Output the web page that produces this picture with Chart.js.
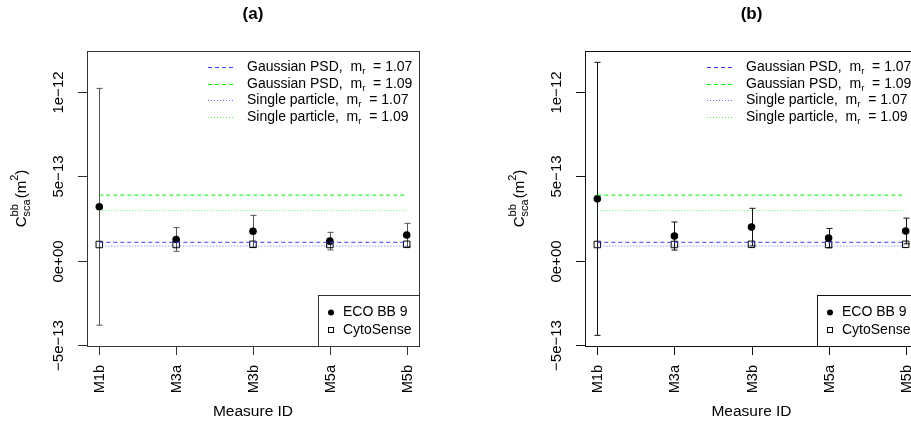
<!DOCTYPE html>
<html>
<head>
<meta charset="utf-8">
<script src="https://cdn.jsdelivr.net/npm/chart.js@4.4.0/dist/chart.umd.min.js"></script>
<style>
  body { margin: 0; background: #fff; overflow: hidden; width: 911px; height: 425px; position: relative; }
  #wrapA { position: absolute; left: 0; top: 0; width: 460px; height: 425px; overflow: hidden; }
  #wrapB { position: absolute; left: 460px; top: 0; width: 451px; height: 425px; overflow: hidden; }
  canvas { position: absolute; left: 0; top: 0; }
</style>
</head>
<body>
<div id="wrapA"><canvas id="chartA" width="460" height="425"></canvas></div>
<div id="wrapB"><canvas id="chartB" width="500" height="425"></canvas></div>
<script>
// categories and ticks
var measureIds = ["M1b", "M3a", "M3b", "M5a", "M5b"];
var yTicks = [-5e-13, 0, 5e-13, 1e-12];
var yTickLabels = ["\u22125e\u221213", "0e+00", "5e\u221213", "1e\u221212"];

// panel (a)
var ecoA = [3.19e-13, 1.26e-13, 1.74e-13, 1.16e-13, 1.52e-13];
var ecoErrA = [7.0e-13, 0.70e-13, 0.94e-13, 0.52e-13, 0.69e-13];
var cytoA = [0.96e-13, 0.96e-13, 0.97e-13, 0.96e-13, 0.97e-13];

// panel (b)
var ecoB = [3.66e-13, 1.46e-13, 1.99e-13, 1.34e-13, 1.76e-13];
var ecoErrB = [8.07e-13, 0.83e-13, 1.11e-13, 0.57e-13, 0.76e-13];
var cytoB = [0.96e-13, 0.96e-13, 0.97e-13, 0.96e-13, 0.97e-13];

// reference lines (same in both panels)
var refNames = ["Gaussian PSD,", "Gaussian PSD,", "Single particle,", "Single particle,"];
var refMr = ["1.07", "1.09", "1.07", "1.09"];
var refValues = [1.09e-13, 3.88e-13, 0.87e-13, 2.96e-13];
var refColors = ["#3c3cff", "#00ee00", "rgba(60,60,255,0.75)", "rgba(40,230,40,0.75)"];
var refDash = [[4, 3], [4, 3], [1, 2], [1, 2]];

var FONT = "Liberation Sans, Arial, sans-serif";

// R風の軸・凡例・エラーバーを描くプラグイン
var rStyle = {
  id: "rStyle",
  beforeDatasetsDraw: function (chart) {
    var o = chart.options.plugins.rStyle;
    var xs = chart.scales.x, ys = chart.scales.y, ctx = chart.ctx;
    ctx.save();
    ctx.strokeStyle = o.barColor;
    ctx.lineWidth = 1;
    for (var i = 0; i < o.eco.length; i++) {
      var x = Math.round(xs.getPixelForValue(i + 1)) + 0.5;
      var hi = ys.getPixelForValue(o.eco[i] + o.err[i]);
      var lo = ys.getPixelForValue(o.eco[i] - o.err[i]);
      ctx.beginPath();
      ctx.moveTo(x, hi); ctx.lineTo(x, lo);
      ctx.moveTo(x - 3, hi); ctx.lineTo(x + 3, hi);
      ctx.moveTo(x - 3, lo); ctx.lineTo(x + 3, lo);
      ctx.stroke();
    }
    ctx.restore();
  },
  afterDraw: function (chart) {
    var o = chart.options.plugins.rStyle;
    var xs = chart.scales.x, ys = chart.scales.y, ctx = chart.ctx;
    var a = chart.chartArea;
    ctx.save();
    ctx.strokeStyle = o.axisColor;
    ctx.fillStyle = "#000";
    ctx.lineWidth = 1;
    // box
    ctx.strokeRect(Math.round(a.left) + 0.5, Math.round(a.top) + 0.5, Math.round(a.right - a.left), Math.round(a.bottom - a.top));

    // x ticks
    ctx.font = "14.5px " + FONT;
    for (var i = 0; i < measureIds.length; i++) {
      var x = Math.round(xs.getPixelForValue(i + 1)) + 0.5;
      ctx.beginPath();
      ctx.moveTo(x, a.bottom); ctx.lineTo(x, a.bottom + 9);
      ctx.stroke();
      ctx.save();
      ctx.translate(x, a.bottom + 19);
      ctx.rotate(-Math.PI / 2);
      ctx.textAlign = "right";
      ctx.textBaseline = "middle";
      ctx.fillText(measureIds[i], 0, 0);
      ctx.restore();
    }
    // y ticks
    ctx.font = "15px " + FONT;
    for (var j = 0; j < yTicks.length; j++) {
      var y = Math.round(ys.getPixelForValue(yTicks[j])) + 0.5;
      ctx.beginPath();
      ctx.moveTo(a.left, y); ctx.lineTo(a.left - 9, y);
      ctx.stroke();
      ctx.save();
      ctx.translate(a.left - 28, y);
      ctx.rotate(-Math.PI / 2);
      ctx.textAlign = "center";
      ctx.textBaseline = "middle";
      ctx.fillText(yTickLabels[j], 0, 0);
      ctx.restore();
    }
    // axis titles
    ctx.textAlign = "center";
    ctx.textBaseline = "middle";
    ctx.font = "15.5px " + FONT;
    ctx.fillText("Measure ID", (a.left + a.right) / 2, 412);
    ctx.font = "bold 17px " + FONT;
    ctx.fillText(o.title, (a.left + a.right) / 2, 14);

    // y title: C^bb_sca (m^2)
    ctx.save();
    ctx.translate(a.left - 66, (a.top + a.bottom) / 2);
    ctx.rotate(-Math.PI / 2);
    ctx.textBaseline = "alphabetic";
    ctx.textAlign = "left";
    var big = "15px " + FONT, small = "11px " + FONT;
    ctx.font = big; var wC = ctx.measureText("C").width; var wP = ctx.measureText("(m").width; var wR = ctx.measureText(")").width;
    ctx.font = small; var wS = Math.max(ctx.measureText("bb").width, ctx.measureText("sca").width); var w2 = ctx.measureText("2").width;
    var tot = wC + wS + 1 + wP + w2 + wR;
    var px = -tot / 2, base = 5;
    ctx.font = big; ctx.fillText("C", px, base); px += wC;
    ctx.font = small; ctx.fillText("bb", px, base - 8); ctx.fillText("sca", px, base + 4); px += wS + 1;
    ctx.font = big; ctx.fillText("(m", px, base); px += wP;
    ctx.font = small; ctx.fillText("2", px, base - 8); px += w2;
    ctx.font = big; ctx.fillText(")", px, base);
    ctx.restore();

    // top legend (no box)
    var lx = a.right - 172;
    for (var k = 0; k < refNames.length; k++) {
      var ly = Math.round(a.top + 16 + k * 16.6);
      ctx.save();
      ctx.strokeStyle = refColors[k];
      ctx.setLineDash(refDash[k]);
      ctx.beginPath();
      ctx.moveTo(lx - 39, ly + 0.5); ctx.lineTo(lx - 12, ly + 0.5);
      ctx.stroke();
      ctx.restore();
      ctx.textAlign = "left";
      ctx.textBaseline = "middle";
      ctx.font = "14px " + FONT;
      var t = refNames[k] + "  m";
      ctx.fillText(t, lx, ly);
      var tx = lx + ctx.measureText(t).width;
      ctx.font = "9.5px " + FONT;
      ctx.fillText("r", tx, ly + 4);
      tx += ctx.measureText("r").width;
      ctx.font = "14px " + FONT;
      ctx.fillText("  = " + refMr[k], tx, ly);
    }

    // bottom-right legend (boxed)
    var bx = a.right - 101, by = a.bottom - 51;
    ctx.strokeStyle = o.axisColor;
    ctx.strokeRect(Math.round(bx) + 0.5, Math.round(by) + 0.5, Math.round(a.right - bx), Math.round(a.bottom - by));
    ctx.beginPath();
    ctx.arc(bx + 13, by + 17.5, 3, 0, Math.PI * 2);
    ctx.fill();
    ctx.strokeStyle = "#000";
    ctx.strokeRect(Math.round(bx + 10) + 0.5, Math.round(by + 32) + 0.5, 5, 5);
    ctx.font = "14px " + FONT;
    ctx.textAlign = "left";
    ctx.textBaseline = "middle";
    ctx.fillText("ECO BB 9", bx + 25, by + 17.5);
    ctx.fillText("CytoSense", bx + 25, by + 35);
    ctx.restore();
  }
};

function makeDatasets(eco, cyto) {
  var sets = [];
  for (var k = 0; k < refValues.length; k++) {
    sets.push({
      type: "line",
      data: [{ x: 1, y: refValues[k] }, { x: measureIds.length, y: refValues[k] }],
      borderColor: refColors[k],
      borderWidth: 1,
      borderDash: refDash[k],
      pointRadius: 0,
      fill: false
    });
  }
  sets.push({
    type: "scatter",
    label: "ECO BB 9",
    data: eco.map(function (v, i) { return { x: i + 1, y: v }; }),
    pointStyle: "circle",
    pointRadius: 3.8,
    backgroundColor: "#000",
    borderColor: "#000",
    borderWidth: 0
  });
  sets.push({
    type: "scatter",
    label: "CytoSense",
    data: cyto.map(function (v, i) { return { x: i + 1, y: v }; }),
    pointStyle: "rect",
    pointRadius: 4.6,
    backgroundColor: "rgba(0,0,0,0)",
    borderColor: "#000",
    borderWidth: 1
  });
  return sets;
}

function makeChart(id, title, eco, err, cyto, pad, axisColor, barColor) {
  return new Chart(document.getElementById(id), {
    type: "scatter",
    data: { datasets: makeDatasets(eco, cyto) },
    options: {
      responsive: false,
      animation: false,
      layout: { padding: pad },
      scales: {
        x: { type: "linear", min: 0.84, max: 5.16, display: false },
        y: { type: "linear", min: -5.04e-13, max: 1.24e-12, display: false }
      },
      plugins: {
        legend: { display: false },
        tooltip: { enabled: false },
        rStyle: { title: title, eco: eco, err: err, axisColor: axisColor, barColor: barColor }
      }
    },
    plugins: [rStyle]
  });
}

makeChart("chartA", "(a)", ecoA, ecoErrA, cytoA, { left: 87, right: 41, top: 51, bottom: 79 }, "#333", "#555");
makeChart("chartB", "(b)", ecoB, ecoErrB, cytoB, { left: 125, right: 42, top: 51, bottom: 79 }, "#111", "#111");
</script>
</body>
</html>
